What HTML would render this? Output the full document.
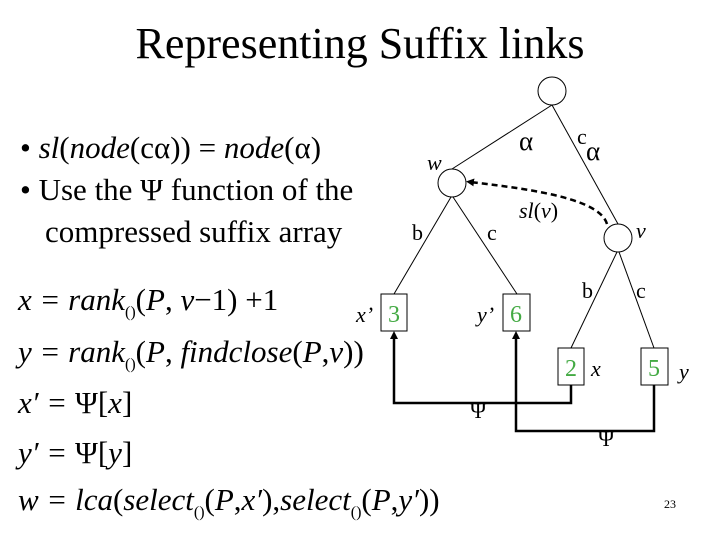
<!DOCTYPE html>
<html><head><meta charset="utf-8"><style>
html,body{margin:0;padding:0;background:#fff;}
svg{display:block;font-family:"Liberation Serif",serif;}
</style></head><body>
<svg width="720" height="540" viewBox="0 0 720 540" xmlns="http://www.w3.org/2000/svg">
<defs><marker id="ah" markerWidth="8" markerHeight="8" refX="4" refY="4" orient="auto" markerUnits="userSpaceOnUse"><path d="M0,0 L8,4 L0,8 z" fill="#000"/></marker></defs>
<text x="360" y="58" font-size="44" text-anchor="middle">Representing Suffix links</text>
<g font-size="31">
<text x="20" y="158">• <tspan font-style="italic">sl</tspan>(<tspan font-style="italic">node</tspan>(cα)) = <tspan font-style="italic">node</tspan>(α)</text>
<text x="20" y="200">• Use the Ψ function of the</text>
<text x="45" y="242">compressed suffix array</text>
</g>
<g font-size="31" font-style="italic">
<text x="18" y="310">x = rank<tspan font-size="16" font-style="normal" dy="7">()</tspan><tspan dy="-7" font-style="normal">(</tspan>P<tspan font-style="normal">,</tspan> v<tspan font-style="normal">−1) +1</tspan></text>
<text x="18" y="362">y = rank<tspan font-size="16" font-style="normal" dy="7">()</tspan><tspan dy="-7" font-style="normal">(</tspan>P<tspan font-style="normal">, </tspan>findclose<tspan font-style="normal">(</tspan>P<tspan font-style="normal">,</tspan>v<tspan font-style="normal">))</tspan></text>
<text x="18" y="413">x′ = <tspan font-style="normal">Ψ[</tspan>x<tspan font-style="normal">]</tspan></text>
<text x="18" y="463">y′ = <tspan font-style="normal">Ψ[</tspan>y<tspan font-style="normal">]</tspan></text>
<text x="18" y="510">w = lca<tspan font-style="normal">(</tspan>select<tspan font-size="16" font-style="normal" dy="7">()</tspan><tspan dy="-7" font-style="normal">(</tspan>P<tspan font-style="normal">,</tspan>x′<tspan font-style="normal">),</tspan>select<tspan font-size="16" font-style="normal" dy="7">()</tspan><tspan dy="-7" font-style="normal">(</tspan>P<tspan font-style="normal">,</tspan>y′<tspan font-style="normal">))</tspan></text>
</g>
<g stroke="#000" stroke-width="1" fill="none">
<line x1="552" y1="105" x2="452" y2="169"/>
<line x1="552" y1="105" x2="618" y2="224"/>
<line x1="451" y1="197" x2="394" y2="294"/>
<line x1="453" y1="197" x2="517" y2="294"/>
<line x1="617" y1="252" x2="571" y2="348"/>
<line x1="619" y1="252" x2="654" y2="348"/>
<circle cx="552" cy="91" r="14"/>
<circle cx="452" cy="183" r="14"/>
<circle cx="618" cy="238" r="14"/>
<rect x="381" y="294" width="26" height="37"/>
<rect x="503" y="294" width="27" height="37"/>
<rect x="558" y="348" width="26" height="37"/>
<rect x="641" y="348" width="27" height="37"/>
<path d="M607,224 C600,200 540,190 470,182" stroke-width="2.5" stroke-dasharray="6,4" marker-end="url(#ah)"/>
<path d="M571,385 V403 H394 V335" stroke-width="2.5" marker-end="url(#ah)"/>
<path d="M654,385 V431 H516 V335" stroke-width="2.5" marker-end="url(#ah)"/>
</g>
<g font-size="24" fill="#4a4">
<text x="394" y="322" text-anchor="middle">3</text>
<text x="516" y="322" text-anchor="middle">6</text>
<text x="571" y="376" text-anchor="middle">2</text>
<text x="654" y="376" text-anchor="middle">5</text>
</g>
<g font-size="22">
<text x="519" y="150" font-size="27">α</text>
<text x="577" y="144">c</text>
<text x="586" y="160" font-size="27">α</text>
<text x="412" y="240">b</text>
<text x="487" y="240">c</text>
<text x="582" y="298">b</text>
<text x="636" y="298">c</text>
<text x="470" y="418">Ψ</text>
<text x="598" y="446">Ψ</text>
</g>
<g font-size="22" font-style="italic">
<text x="427" y="170">w</text>
<text x="636" y="238">v</text>
<text x="519" y="218">sl<tspan font-style="normal">(</tspan>v<tspan font-style="normal">)</tspan></text>
<text x="356" y="322">x’</text>
<text x="477" y="322">y’</text>
<text x="591" y="376">x</text>
<text x="679" y="379">y</text>
</g>
<text x="670" y="508" font-size="12" text-anchor="middle">23</text>
</svg>
</body></html>
